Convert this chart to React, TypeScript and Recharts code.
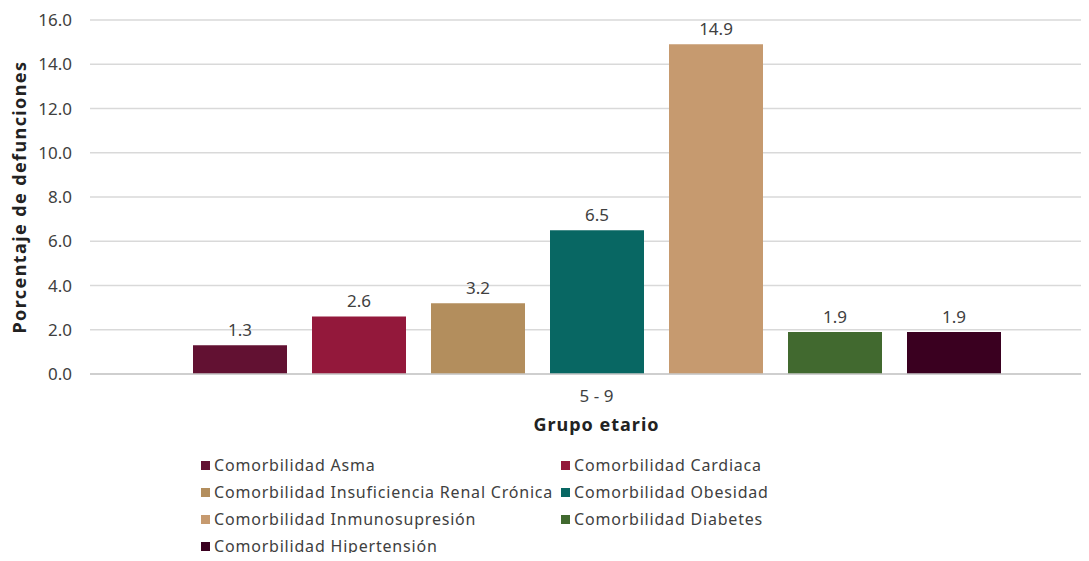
import { BarChart, Bar, XAxis, YAxis, CartesianGrid, LabelList } from 'recharts';

const categories = ['5 - 9'];
const seriesNames = [
  'Comorbilidad Asma',
  'Comorbilidad Cardiaca',
  'Comorbilidad Insuficiencia Renal Crónica',
  'Comorbilidad Obesidad',
  'Comorbilidad Inmunosupresión',
  'Comorbilidad Diabetes',
  'Comorbilidad Hipertensión',
];
const seriesValues = [1.3, 2.6, 3.2, 6.5, 14.9, 1.9, 1.9];
const seriesColors = ['#621132', '#93183b', '#b38e5d', '#086763', '#c69a6f', '#41692f', '#3a0020'];
const yTicks = [0, 2, 4, 6, 8, 10, 12, 14, 16];

const data = categories.map((cat) => {
  const row: Record<string, string | number> = { grupo: cat };
  seriesNames.forEach((name, i) => { row[name] = seriesValues[i]; });
  return row;
});

const FONT = '"Noto Sans", sans-serif';
const TEXT = '#404040';

function LegendBox() {
  return (
    <div style={{
      position: 'absolute', left: 201, top: 454,
      display: 'grid', gridTemplateColumns: '360px 360px', gridAutoRows: '22px', rowGap: 5,
      fontFamily: FONT, fontSize: 16, letterSpacing: 0.8, color: TEXT, lineHeight: '22px',
    }}>
      {seriesNames.map((name, i) => (
        <div key={name} style={{ display: 'flex', alignItems: 'center', height: 22, whiteSpace: 'nowrap' }}>
          <span style={{ width: 9, height: 9, background: seriesColors[i], marginRight: 4, display: 'inline-block' }} />
          {name}
        </div>
      ))}
    </div>
  );
}

export default function App() {
  return (
    <div style={{ position: 'relative', margin: -8, width: 1089, height: 561, overflow: 'hidden', background: '#fff' }}>
      <BarChart
        width={1104}
        height={561}
        data={data}
        margin={{ top: 20, right: 1, left: 0, bottom: 118 }}
        barSize={94}
        barGap={25}
      >
        <CartesianGrid vertical={false} stroke="#d9d9d9" strokeWidth={1.3} />
        <XAxis
          dataKey="grupo"
          height={69}
          tickSize={0}
          tickMargin={16}
          axisLine={{ stroke: '#c8c8c8', strokeWidth: 1.5 }}
          tick={{ fontFamily: FONT, fontSize: 17, fill: TEXT }}
          label={{
            content: ({ viewBox }: any) => (
              <text x={viewBox.x + viewBox.width / 2} y={431} textAnchor="middle"
                fontFamily={FONT} fontSize={18} letterSpacing={1} fontWeight={700} fill="#222">Grupo etario</text>
            ),
          }}
        />
        <YAxis
          width={90}
          domain={[0, 16]}
          ticks={yTicks}
          interval={0}
          tickFormatter={(v: number) => v.toFixed(1)}
          tickSize={0}
          tickMargin={18}
          axisLine={false}
          tick={{ fontFamily: FONT, fontSize: 17, fill: TEXT }}
          label={{
            content: ({ viewBox }: any) => {
              const cy = viewBox.y + viewBox.height / 2;
              return (
                <text x={26} y={cy} transform={`rotate(-90 26 ${cy})`} textAnchor="middle"
                  fontFamily={FONT} fontSize={18} letterSpacing={1.4} fontWeight={700} fill="#222">Porcentaje de defunciones</text>
              );
            },
          }}
        />
        {seriesNames.map((name, i) => (
          <Bar key={name} dataKey={name} fill={seriesColors[i]} isAnimationActive={false}>
            <LabelList dataKey={name} position="top" offset={9}
              formatter={(v: any) => Number(v).toFixed(1)}
              style={{ fontFamily: FONT, fontSize: 17, fill: TEXT }} />
          </Bar>
        ))}
      </BarChart>
      <LegendBox />
    </div>
  );
}
